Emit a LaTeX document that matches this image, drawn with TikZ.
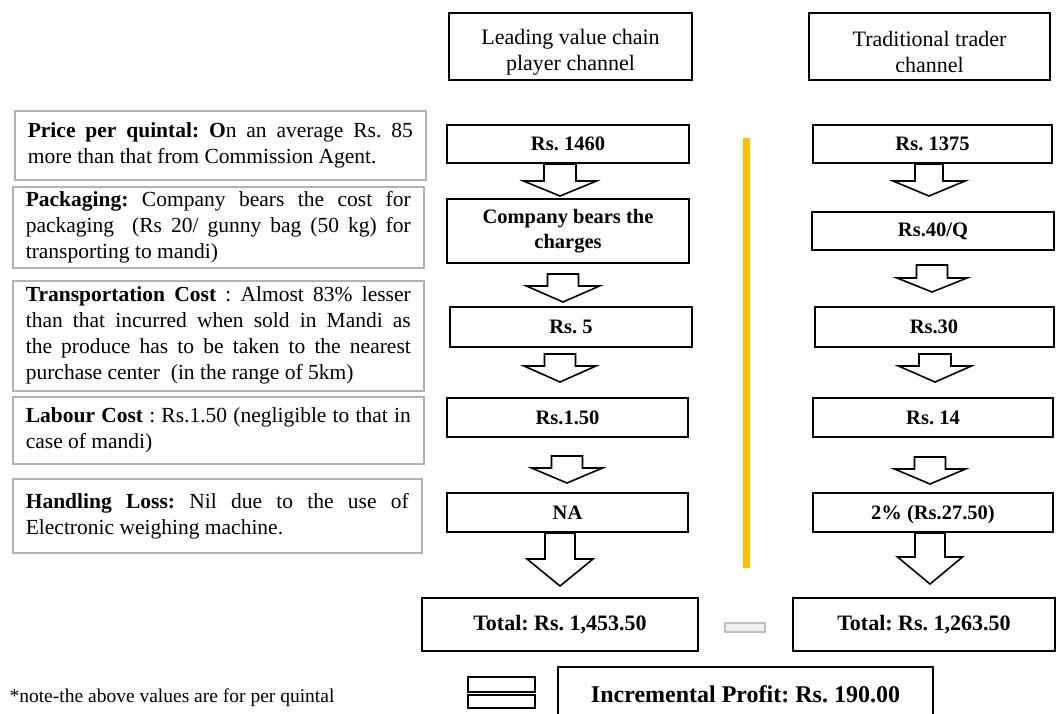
\documentclass[tikz,border=0pt]{standalone}
\usepackage{fontspec}
\setmainfont{Liberation Serif}
\usetikzlibrary{calc}
\definecolor{divider}{HTML}{FFC000}
\frenchspacing

\tikzset{
  factbox/.style={draw=black!30, line width=1.6pt, text width=385pt, inner xsep=13pt,
    inner ysep=0pt, align=justify, anchor=north west,
    font=\fontsize{21.5}{26}\selectfont},
  headbox/.style={draw, line width=2pt, align=center, inner sep=0pt,
    font=\fontsize{22}{26}\selectfont},
  valbox/.style={draw, line width=2pt, align=center, inner sep=0pt,
    font=\bfseries\fontsize{20.5}{25}\selectfont},
  totbox/.style={draw, line width=2pt, inner sep=0pt,
    font=\bfseries\fontsize{22}{26}\selectfont},
  blockarrow/.style={draw, line width=1.6pt, fill=white, line join=miter},
}

% hollow block arrow from the bottom of #1 to the top of #2
% #3 x centre, #4 gap below #1, #5 gap above #2, #6 head length,
% #7 shaft half width, #8 head half width
\newcommand{\flowarrow}[8]{%
  \draw[blockarrow] let \p1=(#1.south), \p2=(#2.north) in
    ({#3pt-#7pt},{\y1-#4pt}) -- ({#3pt+#7pt},{\y1-#4pt})
    -- ({#3pt+#7pt},{\y2+#5pt+#6pt}) -- ({#3pt+#8pt},{\y2+#5pt+#6pt})
    -- ({#3pt},{\y2+#5pt})
    -- ({#3pt-#8pt},{\y2+#5pt+#6pt}) -- ({#3pt-#7pt},{\y2+#5pt+#6pt}) -- cycle;}

\begin{document}
\begin{tikzpicture}[x=1pt,y=-1pt]
\useasboundingbox[fill=white] (0,0) rectangle (1057,713);

% explanatory boxes on the left
\node[factbox, minimum height=69pt] (f1) at (14,110)
  {\textbf{Price per quintal: O}n an average Rs. 85\linebreak more than that from Commission Agent.};
\node[factbox, minimum height=81pt] (f2) at (12,186)
  {\textbf{Packaging:} Company bears the cost for\linebreak packaging~ (Rs 20/ gunny bag (50 kg) for\linebreak transporting to mandi)};
\node[factbox, minimum height=110pt] (f3) at (12,280)
  {\textbf{Transportation Cost} : Almost 83\% lesser\linebreak than that incurred when sold in Mandi as\linebreak the produce has to be taken to the nearest\linebreak purchase center~ (in the range of 5km)};
\node[factbox, minimum height=67pt] (f4) at (12,396)
  {\textbf{Labour Cost} : Rs.1.50 (negligible to that in\linebreak case of mandi)};
\node[factbox, minimum height=74pt, text width=383pt] (f5) at (12,478)
  {\textbf{Handling Loss:} Nil due to the use of\linebreak Electronic weighing machine.};

% channel headers
\node[headbox, minimum width=243pt, minimum height=67pt] (hl) at (570.5,46.5)
  {\rule{0pt}{27pt}Leading value chain\\player channel};
\node[headbox, minimum width=241pt, minimum height=67pt] (hr) at (929.5,46.5)
  {\rule{0pt}{27pt}Traditional trader\\channel};

% leading value chain player channel
\node[valbox, minimum width=242pt, minimum height=38pt] (l1) at (568,144) {Rs. 1460};
\node[valbox, minimum width=242pt, minimum height=64pt] (l2) at (568,231) {Company bears the\\charges};
\node[valbox, minimum width=242pt, minimum height=40pt] (l3) at (571,327) {Rs. 5};
\node[valbox, minimum width=241pt, minimum height=39pt] (l4) at (567.5,417.5) {Rs.1.50};
\node[valbox, minimum width=241pt, minimum height=39pt] (l5) at (567.5,512.5) {NA};
\node[totbox, minimum width=276pt, minimum height=53pt] (tl) at (560,624.5) {Total: Rs. 1,453.50};

% traditional trader channel
\node[valbox, minimum width=239pt, minimum height=38pt] (r1) at (932.5,144) {Rs. 1375};
\node[valbox, minimum width=242pt, minimum height=38pt] (r2) at (933,231) {Rs.40/Q};
\node[valbox, minimum width=239pt, minimum height=40pt] (r3) at (934,327) {Rs.30};
\node[valbox, minimum width=240pt, minimum height=39pt] (r4) at (933,417.5) {Rs. 14};
\node[valbox, minimum width=240pt, minimum height=39pt] (r5) at (933,512.5) {\smash{2\% (Rs.27.50)}\vphantom{Rs. 14}};
\node[totbox, minimum width=262pt, minimum height=53pt] (tr) at (924,624.5) {Total: Rs. 1,263.50};

% arrows down each channel
\flowarrow{l1}{l2}{560}{0}{2}{15}{16}{36.5}
\flowarrow{l2}{l3}{563}{10}{4}{16}{15.5}{36.5}
\flowarrow{l3}{l4}{560}{6}{15}{16}{15.5}{36}
\flowarrow{l4}{l5}{567}{18}{9}{15}{15.5}{35.5}
\flowarrow{l5}{tl}{560}{0}{11}{27}{15}{33}

\flowarrow{r1}{r2}{929}{0}{15}{15}{14}{36}
\flowarrow{r2}{r3}{932}{14}{14}{14}{15.5}{35}
\flowarrow{r3}{r4}{935}{6}{15}{16}{16}{36.5}
\flowarrow{r4}{r5}{930}{19}{8}{15}{15.5}{35.5}
\flowarrow{r5}{tr}{930}{0}{13}{27}{15}{32.5}

% divider between the channels
\coordinate (dtop) at (746,138);
\coordinate (dbot) at (746,568);
\draw[divider, line width=7pt] (dtop) -- (dbot);

% minus and equals signs
\node[draw=black!25, fill=black!6, line width=1.2pt, minimum width=40pt, minimum height=9pt, inner sep=0pt] (minus) at (745,627.5) {};
\node[draw, line width=2pt, fill=white, minimum width=67pt, minimum height=15pt, inner sep=0pt] (eqa) at (501.5,684.5) {};
\node[draw, line width=2pt, fill=white, minimum width=67pt, minimum height=13pt, inner sep=0pt] (eqb) at (501.5,701.5) {};

% result
\node[totbox, font=\bfseries\fontsize{24}{28}\selectfont, minimum width=375pt, minimum height=58pt] (inc) at (745.5,696) {\raisebox{3pt}{Incremental Profit: Rs. 190.00}};

% footnote
\node[font=\fontsize{19.5}{22}\selectfont, inner sep=0pt] (fn) at (172,698) {*note-the above values are for per quintal};
\end{tikzpicture}
\end{document}
